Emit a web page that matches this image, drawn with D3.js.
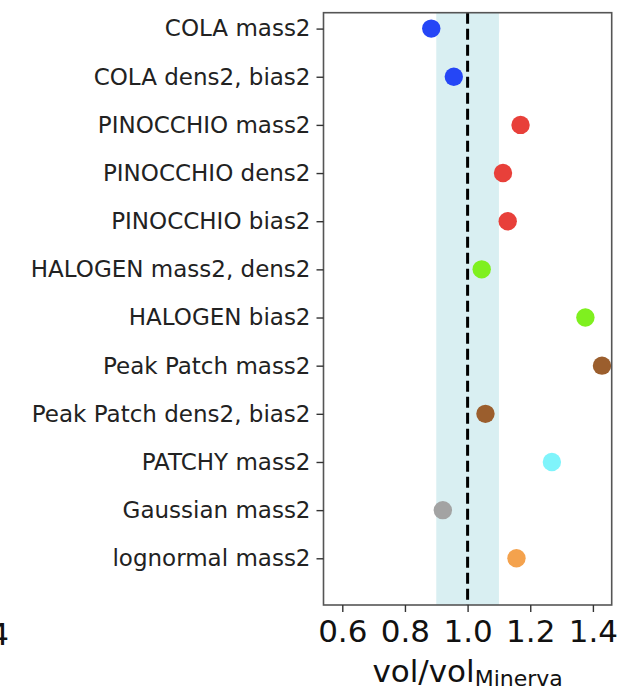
<!DOCTYPE html>
<html>
<head>
<meta charset="utf-8">
<script src="https://cdn.jsdelivr.net/npm/d3@7"></script>
<style>
  html, body { margin: 0; padding: 0; background: #fff; }
  svg { display: block; font-family: "DejaVu Sans", sans-serif; }
</style>
</head>
<body>
<svg id="chart" width="640" height="691"></svg>
<script>
// Simulation methods and their volume ratio relative to Minerva
const methods = [
  "COLA mass2", "COLA dens2, bias2", "PINOCCHIO mass2", "PINOCCHIO dens2",
  "PINOCCHIO bias2", "HALOGEN mass2, dens2", "HALOGEN bias2", "Peak Patch mass2",
  "Peak Patch dens2, bias2", "PATCHY mass2", "Gaussian mass2", "lognormal mass2"
];
const volRatio = [0.884, 0.956, 1.169, 1.113, 1.128, 1.045, 1.376, 1.429, 1.057, 1.269, 0.921, 1.156];
const pointColors = [
  "#2546f6", "#2546f6", "#e8403a", "#e8403a", "#e8403a", "#7ff01f", "#7ff01f",
  "#9b5e2d", "#9b5e2d", "#7ff4fb", "#a3a3a3", "#f4a24d"
];
const xTicks = [0.6, 0.8, 1.0, 1.2, 1.4];
const bandRange = [0.9, 1.1];
const refValue = 1.0;

const svg = d3.select("#chart");
const plotLeft = 323.5, plotRight = 611.7, plotTop = 12.7, plotBottom = 605;

const x = d3.scaleLinear().domain([0.54, 1.46]).range([plotLeft, plotRight]);
const y = d3.scaleLinear().domain([-0.33, 11.97]).range([plotTop, plotBottom]);

// ±10% band around the reference
svg.append("rect")
  .attr("x", x(bandRange[0]))
  .attr("y", plotTop)
  .attr("width", x(bandRange[1]) - x(bandRange[0]))
  .attr("height", plotBottom - plotTop)
  .attr("fill", "#d9eff2");

// reference line
svg.append("line")
  .attr("x1", x(refValue)).attr("x2", x(refValue))
  .attr("y1", plotTop).attr("y2", plotBottom)
  .attr("stroke", "#000")
  .attr("stroke-width", 3)
  .attr("stroke-dasharray", "11,5");

// points
svg.append("g").selectAll("circle")
  .data(methods)
  .join("circle")
  .attr("cx", (d, i) => x(volRatio[i]))
  .attr("cy", (d, i) => y(i))
  .attr("r", 9.2)
  .attr("fill", (d, i) => pointColors[i]);

// frame
svg.append("rect")
  .attr("x", plotLeft).attr("y", plotTop)
  .attr("width", plotRight - plotLeft).attr("height", plotBottom - plotTop)
  .attr("fill", "none")
  .attr("stroke", "#555")
  .attr("stroke-width", 1.6);

// x axis
const xAxis = svg.append("g")
  .attr("transform", `translate(0,${plotBottom})`)
  .call(d3.axisBottom(x).tickValues(xTicks).tickSize(7).tickPadding(8).tickFormat(d3.format(".1f")));
xAxis.select(".domain").remove();
xAxis.selectAll(".tick line").attr("stroke", "#333").attr("stroke-width", 1.4);
xAxis.selectAll(".tick text")
  .attr("font-size", 31)
  .attr("font-family", "DejaVu Sans")
  .attr("fill", "#111");

// y axis
const yAxis = svg.append("g")
  .attr("transform", `translate(${plotLeft},0)`)
  .call(d3.axisLeft(y).tickValues(d3.range(methods.length)).tickSize(7).tickPadding(6)
    .tickFormat(i => methods[i]));
yAxis.select(".domain").remove();
yAxis.selectAll(".tick line").attr("stroke", "#333").attr("stroke-width", 1.4);
yAxis.selectAll(".tick text")
  .attr("font-size", 23)
  .attr("font-family", "DejaVu Sans")
  .attr("fill", "#222");

// partial tick label from the neighbouring panel
svg.append("text")
  .attr("x", 9).attr("y", 645)
  .attr("text-anchor", "end")
  .attr("font-size", 31)
  .attr("fill", "#111")
  .text("1.4");

// x axis title
const title = svg.append("text")
  .attr("x", (plotLeft + plotRight) / 2)
  .attr("y", 682)
  .attr("text-anchor", "middle")
  .attr("fill", "#111");
title.append("tspan").attr("font-size", 31).text("vol/vol");
title.append("tspan").attr("font-size", 22).attr("dy", 4).text("Minerva");
</script>
</body>
</html>
